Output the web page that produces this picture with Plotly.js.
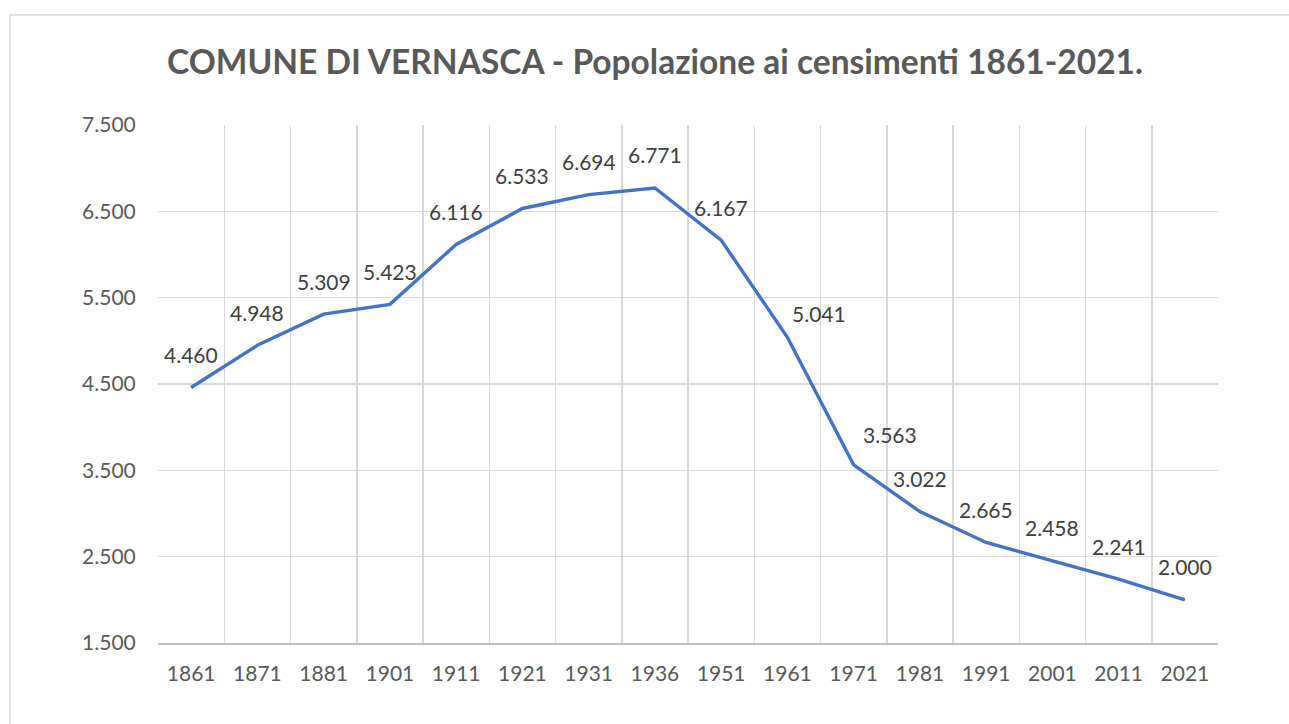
<!DOCTYPE html>
<html>
<head>
<meta charset="utf-8">
<script src="https://cdn.plot.ly/plotly-3.0.1.min.js"></script>
<style>
  html, body { margin: 0; padding: 0; background: #ffffff; }
  #chart { width: 1289px; height: 724px; }
</style>
</head>
<body>
<div id="chart"></div>
<script>
const years = ['1861','1871','1881','1901','1911','1921','1931','1936','1951','1961','1971','1981','1991','2001','2011','2021'];
const population = [4460, 4948, 5309, 5423, 6116, 6533, 6694, 6771, 6167, 5041, 3563, 3022, 2665, 2458, 2241, 2000];
const yTicks = [1500, 2500, 3500, 4500, 5500, 6500, 7500];
const titleText = 'COMUNE DI VERNASCA - Popolazione ai censimenti 1861-2021.';

function fmt(v) {
  return String(v).replace(/\B(?=(\d{3})+(?!\d))/g, '.');
}

const W = 1289, H = 724;
const mL = 158, mR = 71, mT = 125, mB = 81;
const pw = W - mL - mR, ph = H - mT - mB;
const px = p => (p - mL) / pw;
const py = p => (H - mB - p) / ph;

// label placement tweaks (pixel offsets) for labels moved off the line
const labelShift = { '1961': [32, 24], '1971': [36, 30] };

const trace = {
  x: years,
  y: population,
  type: 'scatter',
  mode: 'lines',
  line: { color: '#4472C4', width: 3.4 },
  hoverinfo: 'x+y'
};

const annotations = years.map((yr, i) => {
  const s = labelShift[yr] || [0, 33];
  return {
    x: i, y: population[i], xref: 'x', yref: 'y',
    text: fmt(population[i]),
    showarrow: false,
    xshift: s[0],
    yshift: s[1],
    font: { family: 'Lato, sans-serif', size: 21, color: '#404040' }
  };
});

const layout = {
  width: W, height: H,
  margin: { l: mL, r: mR, t: mT, b: mB },
  paper_bgcolor: '#ffffff',
  plot_bgcolor: '#ffffff',
  separators: ',.',
  showlegend: false,
  title: {
    text: '<b>' + titleText + '</b>',
    font: { family: 'Lato, sans-serif', size: 33.5, color: '#595959' },
    x: 655 / W, xref: 'container', xanchor: 'center',
    y: 1 - 62 / H, yref: 'container', yanchor: 'middle'
  },
  xaxis: {
    type: 'category',
    categoryorder: 'array',
    categoryarray: years,
    range: [-0.5, years.length - 0.5],
    tickson: 'boundaries',
    tickangle: 0,
    showgrid: true,
    gridcolor: '#d9d9d9',
    gridwidth: 1.5,
    showline: true,
    linecolor: '#bfbfbf',
    linewidth: 1.5,
    ticks: '',
    ticklabelstandoff: 11,
    tickfont: { family: 'Lato, sans-serif', size: 21, color: '#595959' },
    zeroline: false,
    fixedrange: true
  },
  yaxis: {
    range: [1500, 7500],
    tickvals: yTicks,
    ticktext: yTicks.map(fmt),
    showgrid: true,
    gridcolor: '#d9d9d9',
    gridwidth: 1.5,
    showline: false,
    zeroline: false,
    ticks: 'outside',
    ticklen: 17,
    tickcolor: 'rgba(0,0,0,0)',
    tickfont: { family: 'Lato, sans-serif', size: 21, color: '#595959' },
    fixedrange: true
  },
  annotations: annotations,
  shapes: [{
    type: 'rect', xref: 'paper', yref: 'paper',
    x0: px(10), x1: px(1300), y0: py(740), y1: py(15),
    line: { color: '#d9d9d9', width: 1.5 },
    fillcolor: 'rgba(0,0,0,0)',
    layer: 'below'
  }]
};

Plotly.newPlot('chart', [trace], layout, { displayModeBar: false, staticPlot: true });
</script>
</body>
</html>
